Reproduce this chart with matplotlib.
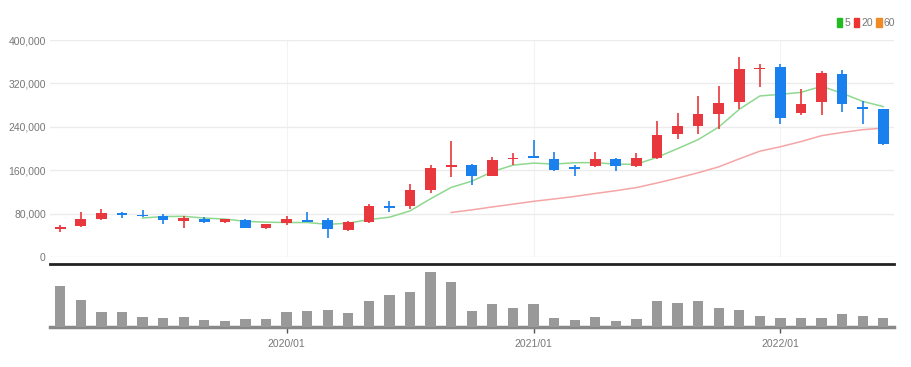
import numpy as np
import pandas as pd
import matplotlib
matplotlib.use('Agg')
import matplotlib.pyplot as plt
from matplotlib.patches import Patch
from matplotlib.ticker import FuncFormatter

# monthly candles, 2019/02 .. 2022/06
months = pd.date_range('2019-02-01', periods=41, freq='MS').strftime('%Y/%m').tolist()

opens  = [52, 57, 69, 81, 78, 76, 66, 69, 65, 68, 54, 62, 68, 68, 49, 64, 93, 93, 124, 165,
          170, 150, 180, 186, 181, 165, 167, 181, 167, 183, 226, 241, 264, 285, 346, 351, 266, 285, 338, 276, 272]
highs  = [58, 82, 89, 83, 86, 80, 75, 73, 70, 69, 61, 75, 82, 72, 66, 98, 103, 135, 170, 213,
          172, 185, 192, 215, 194, 170, 194, 182, 191, 250, 266, 296, 315, 369, 355, 355, 309, 342, 344, 288, 273]
lows   = [45, 55, 68, 71, 73, 61, 53, 63, 62, 53, 51, 58, 64, 35, 48, 62, 82, 88, 118, 147,
          132, 149, 170, 182, 159, 149, 165, 159, 166, 181, 218, 227, 235, 273, 314, 245, 261, 261, 268, 246, 207]
closes = [55, 70, 81, 78, 75, 68, 72, 65, 69, 54, 60, 69, 65, 52, 65, 93, 91, 123, 164, 170,
          150, 179, 183, 183, 161, 162, 181, 168, 182, 225, 242, 264, 284, 346, 348, 257, 282, 340, 282, 273, 209]
volumes = [41, 27, 15, 15, 10, 9, 10, 7, 6, 8, 8, 15, 16, 17, 14, 26, 32, 35, 55, 45,
           16, 23, 19, 23, 9, 7, 10, 6, 8, 26, 24, 26, 19, 17, 11, 9, 9, 9, 13, 11, 9]

df = pd.DataFrame({'open': opens, 'high': highs, 'low': lows, 'close': closes, 'vol': volumes},
                  index=months)
df[['open', 'high', 'low', 'close']] *= 1000
ma_windows = [5, 20, 60]
ma_colors = ['#8fd88f', '#f5a5a5', '#f5a55a']
legend_colors = ['#22bb22', '#ee3333', '#f08a24']

UP = '#e8383d'
DOWN = '#1a80ee'
GRID = '#ececec'
TXT = '#777777'

plt.rcParams['font.family'] = ['Liberation Sans Narrow', 'Liberation Sans', 'DejaVu Sans']

fig = plt.figure(figsize=(9.12, 3.67), dpi=100)
ax = fig.add_axes([0.0548, 0.300, 0.925, 0.591])
axv = fig.add_axes([0.0548, 0.109, 0.925, 0.172], sharex=ax)

x = np.arange(len(df))
up = (df['close'] >= df['open']).values
col = np.where(up, UP, DOWN)

#%% price panel
ax.vlines(x, df['low'], df['high'], color=col, linewidth=1.2, zorder=3)
body_lo = np.minimum(df['open'], df['close'])
body_h = np.maximum(np.abs(df['close'] - df['open']), 2500)
ax.bar(x, body_h, bottom=body_lo, width=0.52, color=col, zorder=4)

for w, c in zip(ma_windows, ma_colors):
    ma = df['close'].rolling(w).mean()
    ax.plot(x, ma, color=c, linewidth=1.1, zorder=2)

ax.set_ylim(0, 400000)
ax.set_yticks(np.arange(0, 400001, 80000))
ax.yaxis.set_major_formatter(FuncFormatter(lambda v, p: f'{int(v):,}'))
ax.grid(axis='y', color=GRID, linewidth=1)
jan = [i for i, m in enumerate(months) if m.endswith('/01')]
for i in jan:
    ax.axvline(i, color='#f3f3f3', linewidth=0.8, zorder=0)
for s in ax.spines.values():
    s.set_visible(False)
ax.tick_params(axis='y', length=0, labelsize=7.5, colors=TXT, pad=3)
ax.tick_params(axis='x', length=0, labelbottom=False)
ax.set_xlim(-0.5, len(df) - 0.5)

handles = [Patch(color=c) for c in legend_colors]
leg = ax.legend(handles, [str(w) for w in ma_windows], ncol=3, frameon=False,
                loc='lower right', bbox_to_anchor=(1.008, 1.03), fontsize=7.5,
                handlelength=0.5, handleheight=0.9, handletextpad=0.2,
                columnspacing=0.35, borderpad=0.2, borderaxespad=0.3)
for t in leg.get_texts():
    t.set_color(TXT)

#%% volume panel
axv.bar(x, df['vol'], width=0.5, color='#999999', zorder=3)
axv.set_ylim(0, 63)
axv.set_yticks([])
for s in ['left', 'right']:
    axv.spines[s].set_visible(False)
axv.spines['top'].set_color('#222222')
axv.spines['top'].set_linewidth(2)
axv.spines['bottom'].set_color('#888888')
axv.spines['bottom'].set_linewidth(2.5)
axv.set_xticks(jan)
axv.set_xticklabels([months[i] for i in jan])
axv.tick_params(axis='x', length=4, width=1, color='#555555', labelsize=7.5,
                labelcolor=TXT, pad=5)

fig.savefig('out.png', dpi=100)
